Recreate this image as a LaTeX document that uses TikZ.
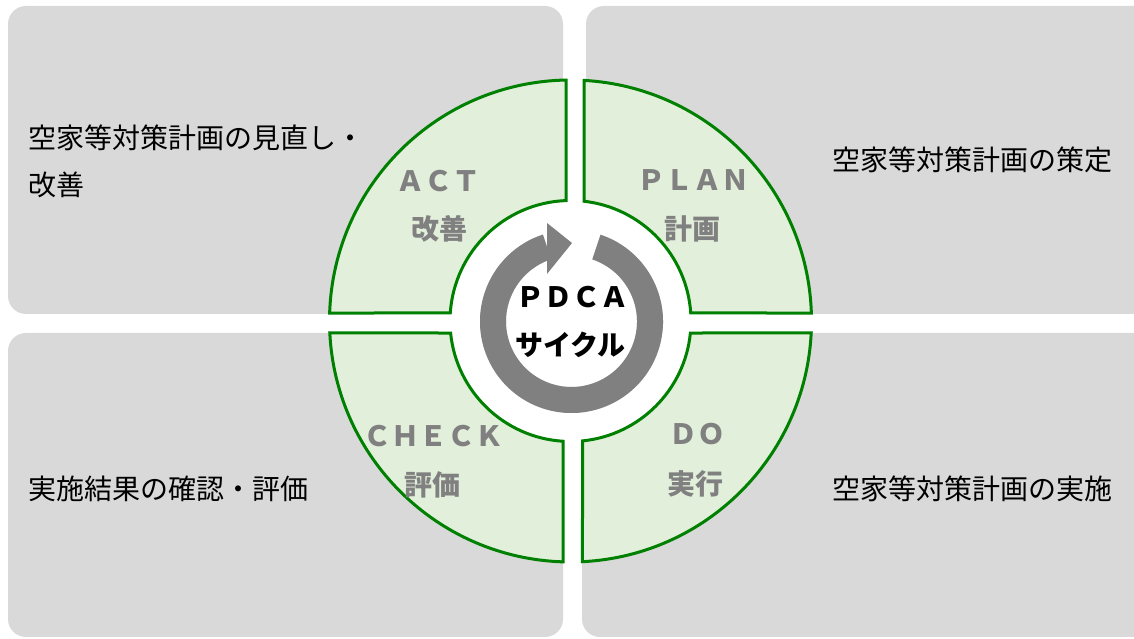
\documentclass[tikz,border=0pt]{standalone}
\usepackage{fontspec}
\setmainfont{Noto Sans CJK JP}
\usetikzlibrary{calc}
\definecolor{boxgray}{HTML}{D9D9D9}
\definecolor{segfill}{HTML}{E2EFDA}
\definecolor{seggreen}{HTML}{008000}
\definecolor{ringgray}{HTML}{808080}
\definecolor{shadowgray}{HTML}{CFCFCF}
\definecolor{labelgray}{HTML}{808080}
\begin{document}
\begin{tikzpicture}[x=1pt,y=1pt,
  bgbox/.style={fill=boxgray, rounded corners=18pt},
  segment/.style={fill=segfill, draw=seggreen, line width=3pt, line join=miter},
  seglabel/.style={text=labelgray, font=\bfseries\fontsize{28}{30}\selectfont, inner sep=0pt},
  sidetext/.style={text=black, font=\fontsize{28}{46.5}\selectfont, inner sep=0pt, align=left},
  centertext/.style={text=black, font=\bfseries\fontsize{28}{30}\selectfont, inner sep=0pt}]
\useasboundingbox (0,0) rectangle (1134,639);
\fill[white] (0,0) rectangle (1134,639);
% background boxes
\fill[bgbox] (8,325) rectangle (563,633);
\fill[bgbox] (586,325) rectangle (1152,633);
\fill[bgbox] (8,2) rectangle (563,306);
\fill[bgbox] (582,2) rectangle (1152,306);
\coordinate (C) at (570.5,318);
\coordinate (R) at (571.5,317.5);
\fill[white] (C) circle[radius=120];
% segments
\draw[segment] ($(C)+(91.07:241)$) arc[start angle=91.07, end angle=178.10, radius=241]
  -- ($(C)+(176.19:120.5)$) arc[start angle=176.19, end angle=92.14, radius=120.5] -- cycle;
\draw[segment] ($(C)+(1.90:241)$) arc[start angle=1.90, end angle=86.79, radius=241]
  -- ($(C)+(83.57:120.5)$) arc[start angle=83.57, end angle=3.81, radius=120.5] -- cycle;
\draw[segment] ($(C)+(182.85:241)$) arc[start angle=182.85, end angle=268.22, radius=241]
  -- ($(C)+(266.43:120.5)$) arc[start angle=266.43, end angle=185.72, radius=120.5] -- cycle;
\draw[segment] ($(C)+(-87.15:241)$) arc[start angle=-87.15, end angle=-2.85, radius=241]
  -- ($(C)+(-5.72:120.5)$) arc[start angle=-5.72, end angle=-84.28, radius=120.5] -- cycle;
% cycle arrow (shadow + ring)
\begin{scope}[shift={(1.5,-1.5)}]
\fill[shadowgray] ($(R)+(71.5:91.5)$) arc[start angle=71.5, end angle=-251.8, radius=91.5]
  -- ($(R)+(-251.8:65.5)$) arc[start angle=-251.8, end angle=71.5, radius=65.5] -- cycle;
\end{scope}
\fill[ringgray] ($(R)+(71.5:91.5)$) arc[start angle=71.5, end angle=-251.8, radius=91.5]
  -- ($(R)+(-251.8:65.5)$) arc[start angle=-251.8, end angle=71.5, radius=65.5] -- cycle;
\fill[ringgray] (547,416) -- (572,396) -- (547,365) -- cycle;
% center text
\node[centertext] (pdca) at (572,341.5) {ＰＤＣＡ};
\node[centertext] (cycle) at (570.5,294) {サイクル};
% segment labels
\node[seglabel] (act) at (438.5,458) {ＡＣＴ};
\node[seglabel] (actj) at (439,410) {改善};
\node[seglabel] (plan) at (693,458.5) {ＰＬＡＮ};
\node[seglabel] (planj) at (692,410) {計画};
\node[seglabel] (check) at (433,202.5) {ＣＨＥＣＫ};
\node[seglabel] (checkj) at (432.5,154) {評価};
\node[seglabel] (do) at (697,204.5) {ＤＯ};
\node[seglabel] (doj) at (695.5,155.5) {実行};
% side texts
\node[sidetext, anchor=west] (tl) at (28,477.75) {空家等対策計画の見直し・\\改善};
\node[sidetext, anchor=east] (tr) at (1113,479) {空家等対策計画の策定};
\node[sidetext, anchor=west] (bl) at (28,150) {実施結果の確認・評価};
\node[sidetext, anchor=east] (br) at (1113,150) {空家等対策計画の実施};
\end{tikzpicture}
\end{document}
